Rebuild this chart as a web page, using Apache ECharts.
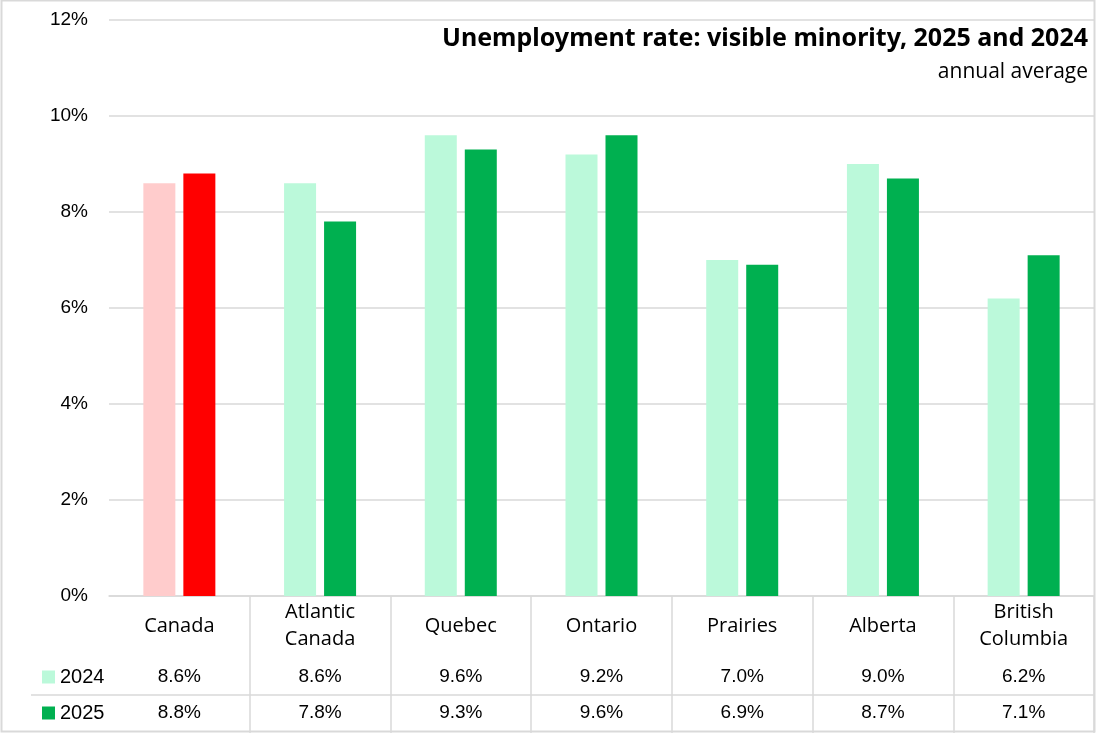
<!DOCTYPE html>
<html>
<head>
<meta charset="utf-8">
<script src="https://cdn.jsdelivr.net/npm/echarts@6/dist/echarts.min.js"></script>
<style>
html,body{margin:0;padding:0;background:#fff;}
#chart{width:1096px;height:733px;}
</style>
</head>
<body>
<div id="chart"></div>
<script>
const categories = ['Canada', 'Atlantic\nCanada', 'Quebec', 'Ontario', 'Prairies', 'Alberta', 'British\nColumbia'];
const values2024 = [8.6, 8.6, 9.6, 9.2, 7.0, 9.0, 6.2];
const values2025 = [8.8, 7.8, 9.3, 9.6, 6.9, 8.7, 7.1];
const yTicks = [0, 2, 4, 6, 8, 10, 12];
const seriesNames = ['2024', '2025'];

const C24 = '#bbf9da', C25 = '#00b050', CAN24 = '#ffcccc', CAN25 = '#ff0000';
const GRIDC = '#d9d9d9';
const numFont = 'Liberation Sans';
const txtFont = 'Open Sans';

const chart = echarts.init(document.getElementById('chart'));
const fmt = v => v.toFixed(1) + '%';

function barData(vals, canColor) {
  return vals.map((v, i) => i === 0 ? { value: v, itemStyle: { color: canColor } } : v);
}

chart.setOption({
  animation: false,
  backgroundColor: '#fff',
  title: [
    { text: 'Unemployment rate: visible minority, 2025 and 2024', right: 3, top: 21,
      textStyle: { fontFamily: 'Noto Sans', fontWeight: 'bold', fontSize: 25, color: '#000' } },
    { text: 'annual average', right: 3, top: 57,
      textStyle: { fontFamily: txtFont, fontWeight: 'normal', fontSize: 21, color: '#000' } }
  ],
  legend: {
    orient: 'vertical', left: 37, top: 662,
    itemWidth: 13, itemHeight: 13, itemGap: 16, icon: 'rect',
    textStyle: { fontFamily: numFont, fontSize: 20, color: '#000', lineHeight: 20 },
    data: seriesNames
  },
  grid: { left: 109, right: 2, top: 20, bottom: 137, containLabel: false },
  xAxis: [
    {
      type: 'category', data: categories, position: 'bottom',
      axisLine: { show: true, lineStyle: { color: GRIDC, width: 1.5 } },
      axisTick: { show: true, length: 137, lineStyle: { color: GRIDC, width: 1.5 },
        interval: (idx) => idx !== 0 },
      axisLabel: { fontFamily: txtFont, fontSize: 20, color: '#000', lineHeight: 27,
        margin: 30, verticalAlign: 'middle', interval: 0 }
    },
    {
      type: 'category', data: values2024.map(fmt), position: 'bottom',
      axisLine: { show: false }, axisTick: { show: false },
      axisLabel: { fontFamily: numFont, fontSize: 19, color: '#000', margin: 81, verticalAlign: 'middle', interval: 0 }
    },
    {
      type: 'category', data: values2025.map(fmt), position: 'bottom',
      axisLine: { show: false }, axisTick: { show: false },
      axisLabel: { fontFamily: numFont, fontSize: 19, color: '#000', margin: 117, verticalAlign: 'middle', interval: 0 }
    }
  ],
  yAxis: {
    type: 'value', min: yTicks[0], max: yTicks[yTicks.length - 1], interval: 2,
    axisLine: { show: false }, axisTick: { show: false },
    splitLine: { lineStyle: { color: GRIDC, width: 1.5 } },
    axisLabel: { formatter: v => v + '%', fontFamily: numFont, fontSize: 19, color: '#000', margin: 21 }
  },
  series: [
    { name: seriesNames[0], type: 'bar', xAxisIndex: 0, data: barData(values2024, CAN24),
      itemStyle: { color: C24 }, barWidth: 32, barGap: '25%' },
    { name: seriesNames[1], type: 'bar', xAxisIndex: 0, data: barData(values2025, CAN25),
      itemStyle: { color: C25 }, barWidth: 32, barGap: '25%' }
  ],
  graphic: [
    { type: 'line', shape: { x1: 31, y1: 695, x2: 1094, y2: 695 }, style: { stroke: GRIDC, lineWidth: 1.5 } },
    { type: 'rect', shape: { x: 1.5, y: 0.5, width: 1093, height: 731 }, style: { fill: null, stroke: GRIDC, lineWidth: 2 } }
  ]
});
</script>
</body>
</html>
